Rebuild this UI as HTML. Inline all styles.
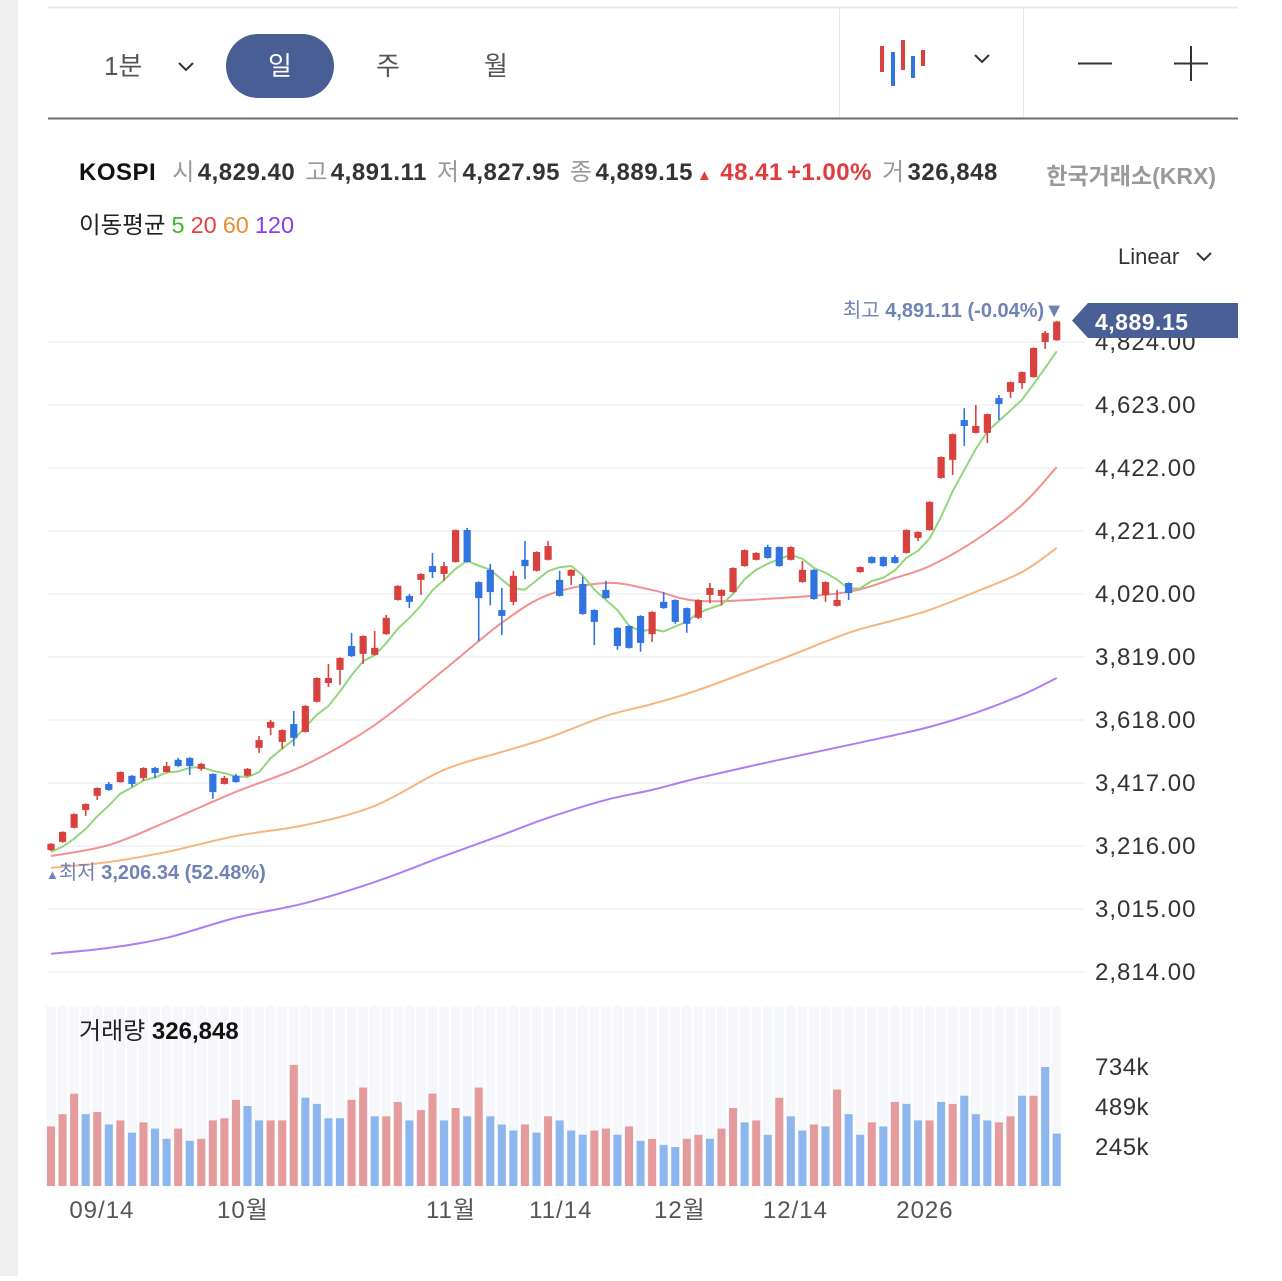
<!DOCTYPE html>
<html><head><meta charset="utf-8">
<style>
html,body{margin:0;padding:0;background:#fff;}
body{width:1282px;height:1276px;position:relative;overflow:hidden;font-family:"Liberation Sans","Noto Sans CJK KR",sans-serif;}
svg text{font-family:"Liberation Sans","Noto Sans CJK KR",sans-serif;}
</style></head>
<body>
<svg id="chart" width="1282" height="1276" viewBox="0 0 1282 1276" xmlns="http://www.w3.org/2000/svg">
<rect x="0" y="0" width="18" height="1276" fill="#efefef"/>
<line x1="48" y1="7.5" x2="1238" y2="7.5" stroke="#e8e8e8" stroke-width="2"/>
<g>
  <text x="104" y="75" font-size="26" fill="#555">1분</text>
  <path d="M179 63 L186 70 L193 63" fill="none" stroke="#333" stroke-width="2"/>
  <rect x="226" y="34" width="108" height="64" rx="32" fill="#485e95"/>
  <text x="280" y="75" font-size="26" fill="#fff" text-anchor="middle">일</text>
  <text x="388" y="75" font-size="26" fill="#555" text-anchor="middle">주</text>
  <text x="496" y="75" font-size="26" fill="#555" text-anchor="middle">월</text>
  <line x1="839.5" y1="8" x2="839.5" y2="118" stroke="#e6e6e6"/>
  <line x1="1023.5" y1="8" x2="1023.5" y2="118" stroke="#e6e6e6"/>
  <g>
    <line x1="882" y1="46" x2="882" y2="72" stroke="#d9413f" stroke-width="4"/>
    <line x1="893" y1="52" x2="893" y2="86" stroke="#2f74e0" stroke-width="4"/>
    <line x1="903" y1="40" x2="903" y2="70" stroke="#d9413f" stroke-width="4"/>
    <line x1="913" y1="56" x2="913" y2="78" stroke="#2f74e0" stroke-width="4"/>
    <line x1="923" y1="50" x2="923" y2="66" stroke="#d9413f" stroke-width="4"/>
  </g>
  <path d="M975 55 L982 62 L989 55" fill="none" stroke="#333" stroke-width="2"/>
  <line x1="1078" y1="63.5" x2="1112" y2="63.5" stroke="#333" stroke-width="2"/>
  <g>
    <line x1="1174" y1="63.5" x2="1208" y2="63.5" stroke="#333" stroke-width="2"/>
    <line x1="1191" y1="46" x2="1191" y2="81" stroke="#333" stroke-width="2"/>
  </g>
</g>
<line x1="48" y1="118.5" x2="1238" y2="118.5" stroke="#666c74" stroke-width="2"/>
<g font-size="24">
  <text x="79" y="180" letter-spacing="0.5"><tspan font-weight="bold" fill="#111">KOSPI</tspan><tspan dx="16" fill="#999">시</tspan><tspan dx="3" fill="#333" font-weight="bold">4,829.40</tspan><tspan dx="10" fill="#999">고</tspan><tspan dx="3" fill="#333" font-weight="bold">4,891.11</tspan><tspan dx="10" fill="#999">저</tspan><tspan dx="3" fill="#333" font-weight="bold">4,827.95</tspan><tspan dx="10" fill="#999">종</tspan><tspan dx="3" fill="#333" font-weight="bold">4,889.15</tspan><tspan dx="4" fill="#e03c3c" font-size="15">▲</tspan><tspan dx="8" fill="#e03c3c" font-weight="bold">48.41</tspan><tspan dx="4" fill="#e03c3c" font-weight="bold">+1.00%</tspan><tspan dx="10" fill="#999">거</tspan><tspan dx="3" fill="#333" font-weight="bold">326,848</tspan></text>
  <text x="1216" y="184" fill="#999" text-anchor="end" font-weight="bold" font-size="23">한국거래소(KRX)</text>
  <text x="79" y="233" font-size="23.5"><tspan fill="#222">이동평균</tspan><tspan dx="6" fill="#45b535">5</tspan><tspan dx="6" fill="#e8403c">20</tspan><tspan dx="6" fill="#ee8b2c">60</tspan><tspan dx="6" fill="#8a3cf0">120</tspan></text>
  <text x="1118" y="264" fill="#333" font-size="22">Linear</text>
  <path d="M1197 253 L1204 260 L1211 253" fill="none" stroke="#333" stroke-width="2"/>
</g>
<g id="grid"></g>
<g id="vol"></g>
<g id="ma"></g>
<g id="candles"></g>
<g id="labels"></g>
</svg>
<script>
// ---- data ----
const opens  = [3203,3229,3274,3331,3376,3414,3420,3440,3433,3465,3452,3491,3497,3462,3446,3414,3440,3440,3529,3593,3548,3605,3580,3676,3736,3778,3854,3829,3826,3892,4001,4014,4065,4109,4084,4122,4224,4058,4097,3969,3995,4129,4094,4129,4065,4078,4052,3969,4033,3912,3918,3950,3892,3995,4001,3975,3944,4017,4014,4026,4109,4129,4170,4170,4129,4058,4097,4017,3982,4055,4090,4138,4138,4138,4151,4199,4224,4390,4448,4575,4534,4534,4645,4665,4693,4712,4824,4829.40];
const highs  = [3225,3263,3320,3352,3403,3420,3454,3442,3467,3468,3484,3497,3499,3481,3448,3440,3446,3465,3567,3618,3588,3647,3665,3754,3797,3818,3896,3888,3902,3953,4048,4020,4086,4151,4122,4226,4231,4060,4116,4039,4094,4189,4156,4189,4094,4099,4075,3971,4062,3914,3920,3952,3965,4026,4003,3977,4003,4055,4035,4105,4162,4153,4177,4172,4172,4125,4099,4060,4033,4057,4108,4140,4140,4144,4226,4220,4316,4459,4532,4613,4623,4596,4655,4698,4730,4807,4859,4891.11];
const lows   = [3200,3226,3272,3312,3363,3392,3418,3405,3424,3433,3450,3469,3443,3456,3366,3412,3418,3438,3513,3570,3526,3535,3578,3674,3723,3730,3819,3797,3824,3890,3999,3975,4017,4071,4062,4120,4120,3870,3984,3889,3984,4068,4092,4127,4012,4049,3954,3857,4005,3842,3846,3836,3867,3973,3925,3896,3940,3991,3984,4024,4107,4127,4133,4107,4127,4056,4002,3995,3980,4001,4088,4117,4107,4117,4149,4189,4222,4388,4400,4492,4532,4502,4575,4645,4674,4710,4802,4827.95];
const closes = [3223,3261,3318,3350,3401,3395,3452,3414,3465,3449,3471,3471,3471,3478,3388,3433,3420,3462,3554,3612,3586,3561,3663,3752,3752,3816,3822,3886,3848,3944,4046,3995,4084,4090,4109,4224,4122,4007,4026,3950,4078,4109,4154,4173,4014,4097,3956,3931,4007,3854,3848,3864,3963,3975,3931,3925,4001,4039,4033,4103,4160,4151,4135,4109,4170,4097,4004,4058,4001,4023,4106,4119,4109,4119,4224,4218,4314,4457,4530,4556,4556,4594,4626,4696,4728,4805,4853,4889.15];
const priorCloses = [3180,3190,3195,3200];
const volumes = [371,446,572,446,459,383,408,333,396,358,295,358,283,295,408,421,534,496,408,408,408,748,547,509,421,421,534,609,433,433,521,408,471,572,408,484,433,609,433,383,346,383,333,433,408,346,320,346,358,320,371,283,295,258,245,295,320,295,358,484,396,408,320,547,433,346,383,371,597,446,320,396,371,521,509,408,408,521,509,559,446,408,396,433,559,559,735,327];
const volUp = "RRRBRBRBRBBRBRRRRBBRRRBBBBRRBRRBRRBRBRBBBRBRBBBRRBRBRBBRRBRRBRBRBBRBRBBRBRBBRBRBBBRRBRB";
const maIdx  = [0,5,10,16,22,28,34,39,43,48,52,56,63,69,73,76,80,84,87];
const ma20   = [3184,3219,3293,3389,3475,3602,3778,3928,4017,4055,4033,3998,4007,4027,4071,4109,4192,4304,4425];
const ma60   = [3146,3165,3197,3248,3283,3344,3459,3516,3561,3631,3669,3714,3810,3896,3937,3969,4027,4090,4167];
const ma120  = [2872,2891,2923,2987,3034,3101,3184,3251,3306,3363,3395,3433,3491,3538,3570,3596,3641,3698,3752];
const priceTicks = [4824,4623,4422,4221,4020,3819,3618,3417,3216,3015,2814];
const volTicks = [734,489,245];
const volTickLabels = ["734k","489k","245k"];
const xLabelIdx = [4.4,16.6,34.6,44.1,54.4,64.4,75.6];
const xLabels = ["09/14","10월","11월","11/14","12월","12/14","2026"];

// ---- axes ----
const X0=51, DX=11.56;
const x = i => X0 + i*DX;
const y = v => 342 + (4824 - v)*63/201;
const vy = v => 1187 - v*40/245;
const NS='http://www.w3.org/2000/svg';
function mk(tag, attrs, parent){const e=document.createElementNS(NS,tag);for(const k in attrs)e.setAttribute(k,attrs[k]);parent.appendChild(e);return e;}
const G=document.getElementById('grid'),V=document.getElementById('vol'),M=document.getElementById('ma'),C=document.getElementById('candles'),L=document.getElementById('labels');

priceTicks.forEach((t,k)=>{
  const ln=mk('line',{x1:48,x2:1085,y1:y(t),y2:y(t),stroke:'#eff1f4','stroke-width':1.5},G);
  
  
  const tx=mk('text',{x:1095,y:y(t)+8,'font-size':24,'letter-spacing':1,fill:'#333'},L);
  tx.textContent=t.toLocaleString('en-US',{minimumFractionDigits:2});
  
  
});

// volume
closes.forEach((c,i)=>{
  const bg=mk('rect',{x:x(i)-4.8,y:1006,width:9.6,height:180,fill:'#f6f7fb'},V);
  
  
});
volumes.forEach((v,i)=>{
  const r=mk('rect',{x:x(i)-4,y:vy(v),width:8,height:1186-vy(v),fill:volUp[i]==='R'?'#e59b9b':'#8db6ef'},V);
  
  
});
volTicks.forEach((t,k)=>{
  const tx=mk('text',{x:1095,y:vy(t)+8,'font-size':24,'letter-spacing':0.5,fill:'#333'},L);
  tx.textContent=volTickLabels[k];
  
  
});

// moving averages
function smooth(pts){
  let d='M'+pts[0][0]+' '+pts[0][1];
  for(let i=0;i<pts.length-1;i++){
    const p0=pts[i-1]||pts[i],p1=pts[i],p2=pts[i+1],p3=pts[i+2]||p2;
    const c1=[p1[0]+(p2[0]-p0[0])/6,p1[1]+(p2[1]-p0[1])/6],c2=[p2[0]-(p3[0]-p1[0])/6,p2[1]-(p3[1]-p1[1])/6];
    d+=` C${c1[0]} ${c1[1]} ${c2[0]} ${c2[1]} ${p2[0]} ${p2[1]}`;
  }
  return d;
}
[[ma120,'#ae7cf5','ma120-line'],[ma60,'#f5b57f','ma60-line'],[ma20,'#f48f8f','ma20-line']].forEach(([arr,col,nm])=>{
  const p=mk('path',{d:smooth(arr.map((v,k)=>[x(maIdx[k]),y(v)])),fill:'none',stroke:col,'stroke-width':2},M);
  
  
});
const all=priorCloses.concat(closes);
const ma5pts=closes.map((c,i)=>{let s=0;for(let k=0;k<5;k++)s+=all[i+4-k];return [x(i),y(s/5)];});
const p5=mk('path',{d:'M'+ma5pts.map(p=>p[0].toFixed(1)+' '+p[1].toFixed(1)).join(' L'),fill:'none',stroke:'#92d67d','stroke-width':2,'stroke-linejoin':'round'},M);



// candles
closes.forEach((c,i)=>{
  const o=opens[i],up=c>=o,col=up?'#d9413f':'#2f74e0';
  const g=mk('g',{},C);
  
  
  mk('line',{x1:x(i),x2:x(i),y1:y(highs[i]),y2:y(lows[i]),stroke:col,'stroke-width':1.6},g);
  const top=y(Math.max(o,c)),bot=y(Math.min(o,c));
  mk('rect',{x:x(i)-3.6,y:top,width:7.2,height:Math.max(1.5,bot-top),fill:col},g);
});

// x labels
xLabels.forEach((t,k)=>{
  const tx=mk('text',{x:x(xLabelIdx[k]),y:1218,'font-size':24,'letter-spacing':1,fill:'#555','text-anchor':'middle'},L);
  tx.textContent=t;
  
  
});
</script>
<svg style="position:absolute;left:0;top:0" width="1282" height="1276">
  <g>
    <path d="M1072 320.5 L1088 303 L1238 303 L1238 338 L1088 338 Z" fill="#4a5f96"/>
    <text x="1095" y="330" font-size="23" fill="#fff" font-weight="bold" letter-spacing="0.5" font-family="Liberation Sans, sans-serif">4,889.15</text>
  </g>
  <text x="1064" y="317" font-size="20" fill="#7083b6" text-anchor="end" font-family="Liberation Sans, Noto Sans CJK KR, sans-serif">최고 <tspan font-weight="bold">4,891.11 (-0.04%)</tspan>▼</text>
  <text x="46" y="879" font-size="20" fill="#7083b6" font-family="Liberation Sans, Noto Sans CJK KR, sans-serif"><tspan font-size="13">▲</tspan>최저 <tspan font-weight="bold">3,206.34 (52.48%)</tspan></text>
  <text x="79" y="1039" font-size="24" fill="#222" font-family="Liberation Sans, Noto Sans CJK KR, sans-serif">거래량 <tspan font-weight="bold" fill="#111">326,848</tspan></text>
</svg>
</body></html>
